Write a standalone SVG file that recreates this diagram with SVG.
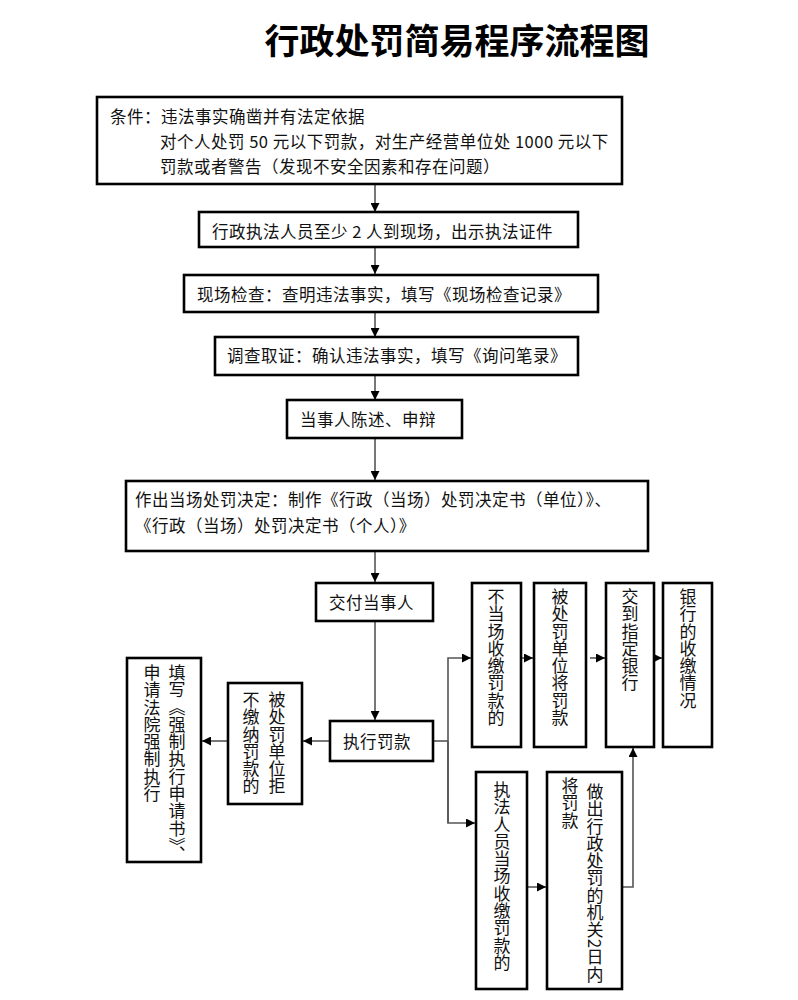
<svg xmlns="http://www.w3.org/2000/svg" width="798" height="1000" viewBox="0 0 798 1000">
<defs>
<style>
.box{fill:#fff;stroke:#000;stroke-width:2.6}
.t{font-family:"Noto Sans CJK SC","Noto Sans",sans-serif;font-size:16.5px;letter-spacing:0.5px;fill:#111;dominant-baseline:central}
.v{font-family:"Noto Sans CJK SC","Noto Sans",sans-serif;font-size:17px;letter-spacing:0.3px;fill:#111;writing-mode:vertical-rl}
.title{font-family:"Noto Sans CJK SC","Noto Sans",sans-serif;font-size:35px;font-weight:bold;fill:#000;dominant-baseline:central}
.c{fill:none;stroke:#555;stroke-width:1.6}
</style>
<marker id="ah" viewBox="0 0 10 10" refX="10" refY="5" markerWidth="9" markerHeight="9" markerUnits="userSpaceOnUse" orient="auto">
<path d="M0,0 L10,5 L0,10 z" fill="#000"/>
</marker>
</defs>
<rect width="798" height="1000" fill="#fff"/>
<text class="title" x="457" y="38" text-anchor="middle">行政处罚简易程序流程图</text>

<g id="connectors">
<line class="c" x1="375" y1="185" x2="375" y2="212" marker-end="url(#ah)"/>
<line class="c" x1="375" y1="248" x2="375" y2="274" marker-end="url(#ah)"/>
<line class="c" x1="375" y1="313" x2="375" y2="337" marker-end="url(#ah)"/>
<line class="c" x1="375" y1="376" x2="375" y2="400" marker-end="url(#ah)"/>
<line class="c" x1="375" y1="439" x2="375" y2="480" marker-end="url(#ah)"/>
<line class="c" x1="375" y1="552" x2="375" y2="582" marker-end="url(#ah)"/>
<line class="c" x1="375" y1="622" x2="375" y2="720" marker-end="url(#ah)"/>
<line class="c" x1="330" y1="741" x2="303" y2="741" marker-end="url(#ah)"/>
<line class="c" x1="228" y1="741" x2="202" y2="741" marker-end="url(#ah)"/>
<polyline class="c" points="434,741 448,741"/>
<polyline class="c" points="448,823 448,658 471,658" marker-end="url(#ah)"/>
<polyline class="c" points="448,741 448,823 475,823" marker-end="url(#ah)"/>
<line class="c" x1="521" y1="658" x2="533" y2="658" marker-end="url(#ah)"/>
<line class="c" x1="590" y1="658" x2="605" y2="658" marker-end="url(#ah)"/>
<line class="c" x1="654" y1="658" x2="662" y2="658" marker-end="url(#ah)"/>
<line class="c" x1="527" y1="887" x2="546" y2="887" marker-end="url(#ah)"/>
<polyline class="c" points="622,887 633,887 633,748" marker-end="url(#ah)"/>
</g>

<g id="n1">
<rect class="box" x="97" y="97" width="525" height="87"/>
<text class="t" x="110" y="116">条件：违法事实确凿并有法定依据</text>
<text class="t" x="160" y="141">对个人处罚 50 元以下罚款，对生产经营单位处 1000 元以下</text>
<text class="t" x="160" y="166">罚款或者警告（发现不安全因素和存在问题）</text>
</g>
<g id="n2">
<rect class="box" x="199" y="212" width="379" height="35"/>
<text class="t" x="212" y="231">行政执法人员至少 2 人到现场，出示执法证件</text>
</g>
<g id="n3">
<rect class="box" x="184" y="275" width="414" height="37"/>
<text class="t" x="197" y="294">现场检查：查明违法事实，填写《现场检查记录》</text>
</g>
<g id="n4">
<rect class="box" x="215" y="337" width="363" height="38"/>
<text class="t" x="227" y="355">调查取证：确认违法事实，填写《询问笔录》</text>
</g>
<g id="n5">
<rect class="box" x="287" y="400" width="175" height="38"/>
<text class="t" x="300" y="419">当事人陈述、申辩</text>
</g>
<g id="n6">
<rect class="box" x="126" y="481" width="522" height="70"/>
<text class="t" x="135" y="499">作出当场处罚决定：制作《行政（当场）处罚决定书（单位）》、</text>
<text class="t" x="135" y="525">《行政（当场）处罚决定书（个人）》</text>
</g>
<g id="n7">
<rect class="box" x="316" y="583" width="117" height="38"/>
<text class="t" x="329" y="602">交付当事人</text>
</g>
<g id="n8">
<rect class="box" x="330" y="721" width="103" height="40"/>
<text class="t" x="343" y="741">执行罚款</text>
</g>
<g id="n9">
<rect class="box" x="228" y="683" width="74" height="121"/>
<text class="v" x="277" y="691">被处罚单位拒</text>
<text class="v" x="251" y="691">不缴纳罚款的</text>
</g>
<g id="n10">
<rect class="box" x="127" y="658" width="74" height="204"/>
<text class="v" x="177" y="664">填写《强制执行申请书》、</text>
<text class="v" x="152" y="664">申请法院强制执行</text>
</g>
<g id="n11">
<rect class="box" x="472" y="583" width="49" height="164"/>
<text class="v" x="496" y="588">不当场收缴罚款的</text>
</g>
<g id="n12">
<rect class="box" x="534" y="583" width="52" height="164"/>
<text class="v" x="560" y="588">被处罚单位将罚款</text>
</g>
<g id="n13">
<rect class="box" x="606" y="583" width="48" height="164"/>
<text class="v" x="630" y="588">交到指定银行</text>
</g>
<g id="n14">
<rect class="box" x="663" y="583" width="49" height="164"/>
<text class="v" x="688" y="588">银行的收缴情况</text>
</g>
<g id="n15">
<rect class="box" x="476" y="772" width="51" height="217"/>
<text class="v" x="502" y="781">执法人员当场收缴罚款的</text>
</g>
<g id="n16">
<rect class="box" x="547" y="772" width="75" height="217"/>
<text class="v" x="595" y="783">做出行政处罚的机关2日内</text>
<text class="v" x="570" y="777">将罚款</text>
</g>
</svg>
